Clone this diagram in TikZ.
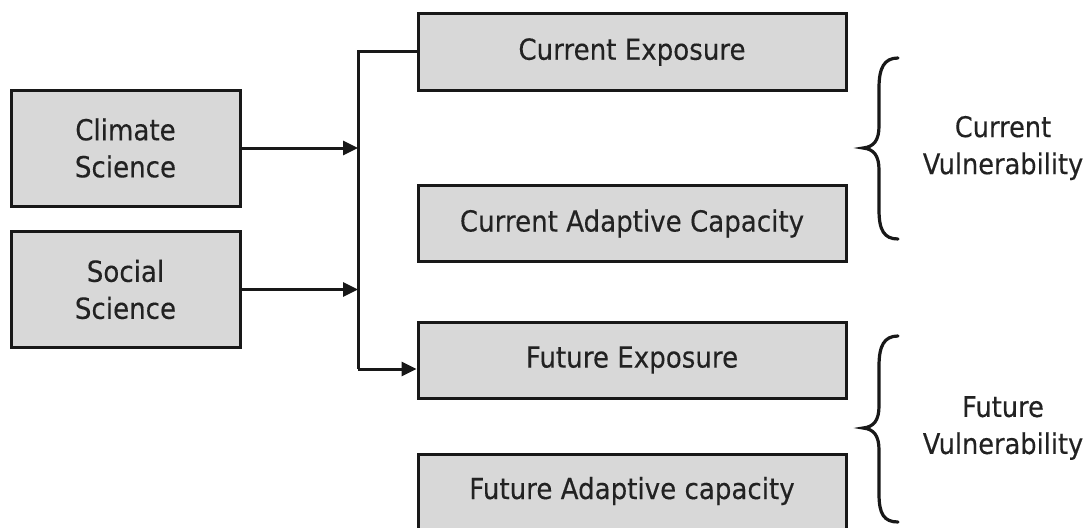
\documentclass[tikz,border=0pt]{standalone}
\usepackage{fontspec}
\setmainfont{DejaVu Sans}[FakeStretch=0.9]
\usetikzlibrary{arrows.meta,calc}
\definecolor{boxfill}{RGB}{216,216,216}
\definecolor{inkline}{RGB}{24,24,24}
\definecolor{inktext}{RGB}{34,34,34}
\newcommand{\diagfont}{\fontsize{29}{37}\selectfont\addfontfeature{FakeBold=0.25}}
\begin{document}
\begin{tikzpicture}[x=1pt,y=-1pt,
  box/.style={draw=inkline,line width=3pt,fill=boxfill,text=inktext,
    inner sep=0pt,align=center,font=\diagfont},
  srcbox/.style={box,minimum width=229pt,minimum height=116pt},
  resbox/.style={box,minimum width=428pt,minimum height=76pt},
  link/.style={draw=inkline,line width=3pt},
  arr/.style={link,-{Triangle[length=15pt,width=14pt]}},
  curly/.style={draw=inkline,line width=3.2pt,line cap=round},
  label/.style={text=inktext,align=center,font=\diagfont}]
  % page frame
  \fill[white] (0,0) rectangle (1091,527);
  \useasboundingbox (0,0) rectangle (1091,527);

  % source boxes
  \node[srcbox] (cs) at (125.5,148) {Climate\\Science};
  \node[srcbox] (ss) at (125.5,289.5) {Social\\Science};

  % result boxes
  \node[resbox] (ce) at (632,52) {Current Exposure};
  \node[resbox] (ca) at (632,223.5) {Current Adaptive Capacity};
  \node[resbox] (fe) at (632,360) {Future Exposure};
  \begin{scope}
    \clip (0,0) rectangle (1091,527);
    \node[resbox,minimum height=86pt] (fa) at (632,497) {};
    \node[text=inktext,font=\diagfont] (fat) at (632,491) {Future Adaptive capacity};
  \end{scope}

  % bus joining the inputs to the outputs
  \coordinate (jt) at (358,52);
  \coordinate (jc) at (358,148);
  \coordinate (js) at (358,289.5);
  \coordinate (jb) at (358,369);
  \draw[link] (ce.west) -- (jt) -- (jb);
  \draw[arr] (cs.east) -- (jc);
  \draw[arr] (ss.east) -- (js);
  \draw[arr] (jb) -- (jb -| fe.west);

  % braces
  \draw[curly] (898,58) .. controls (884,58) and (879,68) .. (879,88)
    -- (879,126) .. controls (879,140) and (874,147) .. (863,148)
    .. controls (874,149) and (879,156) .. (879,170)
    -- (879,210) .. controls (879,230) and (884,239) .. (898,239);
  \draw[curly] (898,336) .. controls (884,336) and (879,346) .. (879,366)
    -- (879,406) .. controls (879,420) and (874,427) .. (863,428)
    .. controls (874,429) and (879,436) .. (879,450)
    -- (879,494) .. controls (879,514) and (884,522) .. (898,522);

  \node[label,font=\diagfont\fontsize{28.5}{37}\selectfont] (cv) at (1003,148) {Current\\Vulnerability};
  \node[label,font=\diagfont\fontsize{28.5}{37}\selectfont] (fv) at (1003,428) {Future\\Vulnerability};
\end{tikzpicture}
\end{document}
